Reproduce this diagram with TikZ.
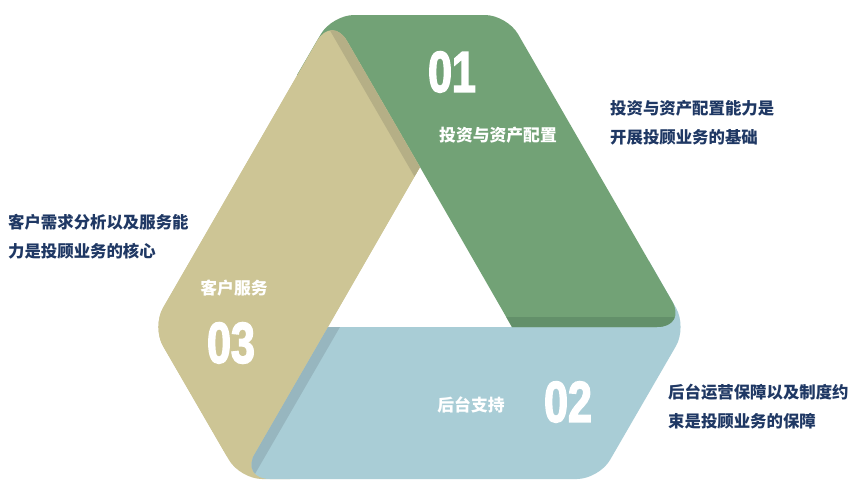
\documentclass[tikz,border=0pt]{standalone}
\usepackage{fontspec}
\newfontfamily\cjk{Noto Sans CJK SC}
\newfontfamily\numfont[FakeStretch=0.74,FakeBold=2.5]{Liberation Sans Bold}

\definecolor{bandGreen}{HTML}{72A276}
\definecolor{bandGreenDk}{HTML}{63906A}
\definecolor{bandTan}{HTML}{CDC595}
\definecolor{bandTanDk}{HTML}{B5AF86}
\definecolor{bandBlue}{HTML}{A9CDD6}
\definecolor{bandBlueDk}{HTML}{97B6BF}
\definecolor{txtNavy}{HTML}{1F3864}

\tikzset{
	numtxt/.style={text=white, inner sep=0pt, font=\numfont\fontsize{58}{58}\selectfont},
	bandtxt/.style={text=white, inner sep=0pt, font=\cjk\bfseries\fontsize{16.8}{20}\selectfont},
	sidetxt/.style={text=txtNavy, inner sep=0pt, anchor=west, align=left, font=\cjk\bfseries\fontsize{16.4}{29}\selectfont},
}

\newcommand{\rBig}{22pt}
\newcommand{\rTip}{30pt}
\newcommand{\tanFull}{(A) -- (I1) -- (E1) [rounded corners=\rBig] -- (B1) -- (L) [rounded corners=\rTip] -- (T1) [sharp corners] -- cycle}
\newcommand{\tanMain}{(A) [rounded corners=\rTip] -- (T1) [rounded corners=\rBig] -- (L) [rounded corners=\rTip] -- (B1) [sharp corners] -- cycle}
\newcommand{\blueFull}{(I1) -- (X1) -- (X2) [rounded corners=\rBig] -- (R) -- (B2) [rounded corners=\rTip] -- (B1) [sharp corners] -- cycle}
\newcommand{\greenFull}{(A) -- (G0) [rounded corners=\rBig] -- (T1) -- (T2) [rounded corners=\rTip] -- (R) [sharp corners] -- (I2) -- cycle}

\begin{document}
\begin{tikzpicture}[x=1pt,y=-1pt]
\fill[white] (0,0) rectangle (865,499);
\useasboundingbox (0,0) rectangle (865,499);

\coordinate (T1) at (332,15);
\coordinate (T2) at (507,15);
\coordinate (R) at (687,327);
\coordinate (B2) at (599,479);
\coordinate (B1) at (240,479);
\coordinate (L) at (152,327);
\coordinate (A) at (420,167);
\coordinate (I1) at (328,327);
\coordinate (I2) at (512,327);
\coordinate (E1) at (290,479);
\coordinate (X1) at (530,327);
\coordinate (X2) at (649,261);
\coordinate (G0) at (297,75);

\fill[bandTan] \tanFull;
\fill[bandBlue] \blueFull;
\begin{scope}
	\clip \blueFull;
	\fill[bandBlueDk] (343,301) -- (225,505) -- (237,505) -- (355,301) -- cycle;
\end{scope}
\fill[bandGreen] \greenFull;
\begin{scope}
	\clip \greenFull;
	\fill[bandGreenDk] (400,317) rectangle (720,340);
\end{scope}
\fill[bandTan] \tanMain;
\begin{scope}
	\clip \tanMain;
	\fill[bandTanDk] (317,-11) -- (435,193) -- (424,193) -- (306,-11) -- cycle;
\end{scope}

\node[numtxt] (n01) at (452,72) {01};
\node[numtxt] (n02) at (568,402) {02};
\node[numtxt] (n03) at (231,343) {03};

\node[bandtxt] (lblInvest) at (498,135) {投资与资产配置};
\node[bandtxt] (lblBack) at (471,405) {后台支持};
\node[bandtxt] (lblClient) at (234,288) {客户服务};

\node[sidetxt] (txtInvest) at (610,123) {投资与资产配置能力是\\开展投顾业务的基础};
\node[sidetxt] (txtClient) at (8,237) {客户需求分析以及服务能\\力是投顾业务的核心};
\node[sidetxt] (txtBack) at (668,407) {后台运营保障以及制度约\\束是投顾业务的保障};
\end{tikzpicture}
\end{document}
